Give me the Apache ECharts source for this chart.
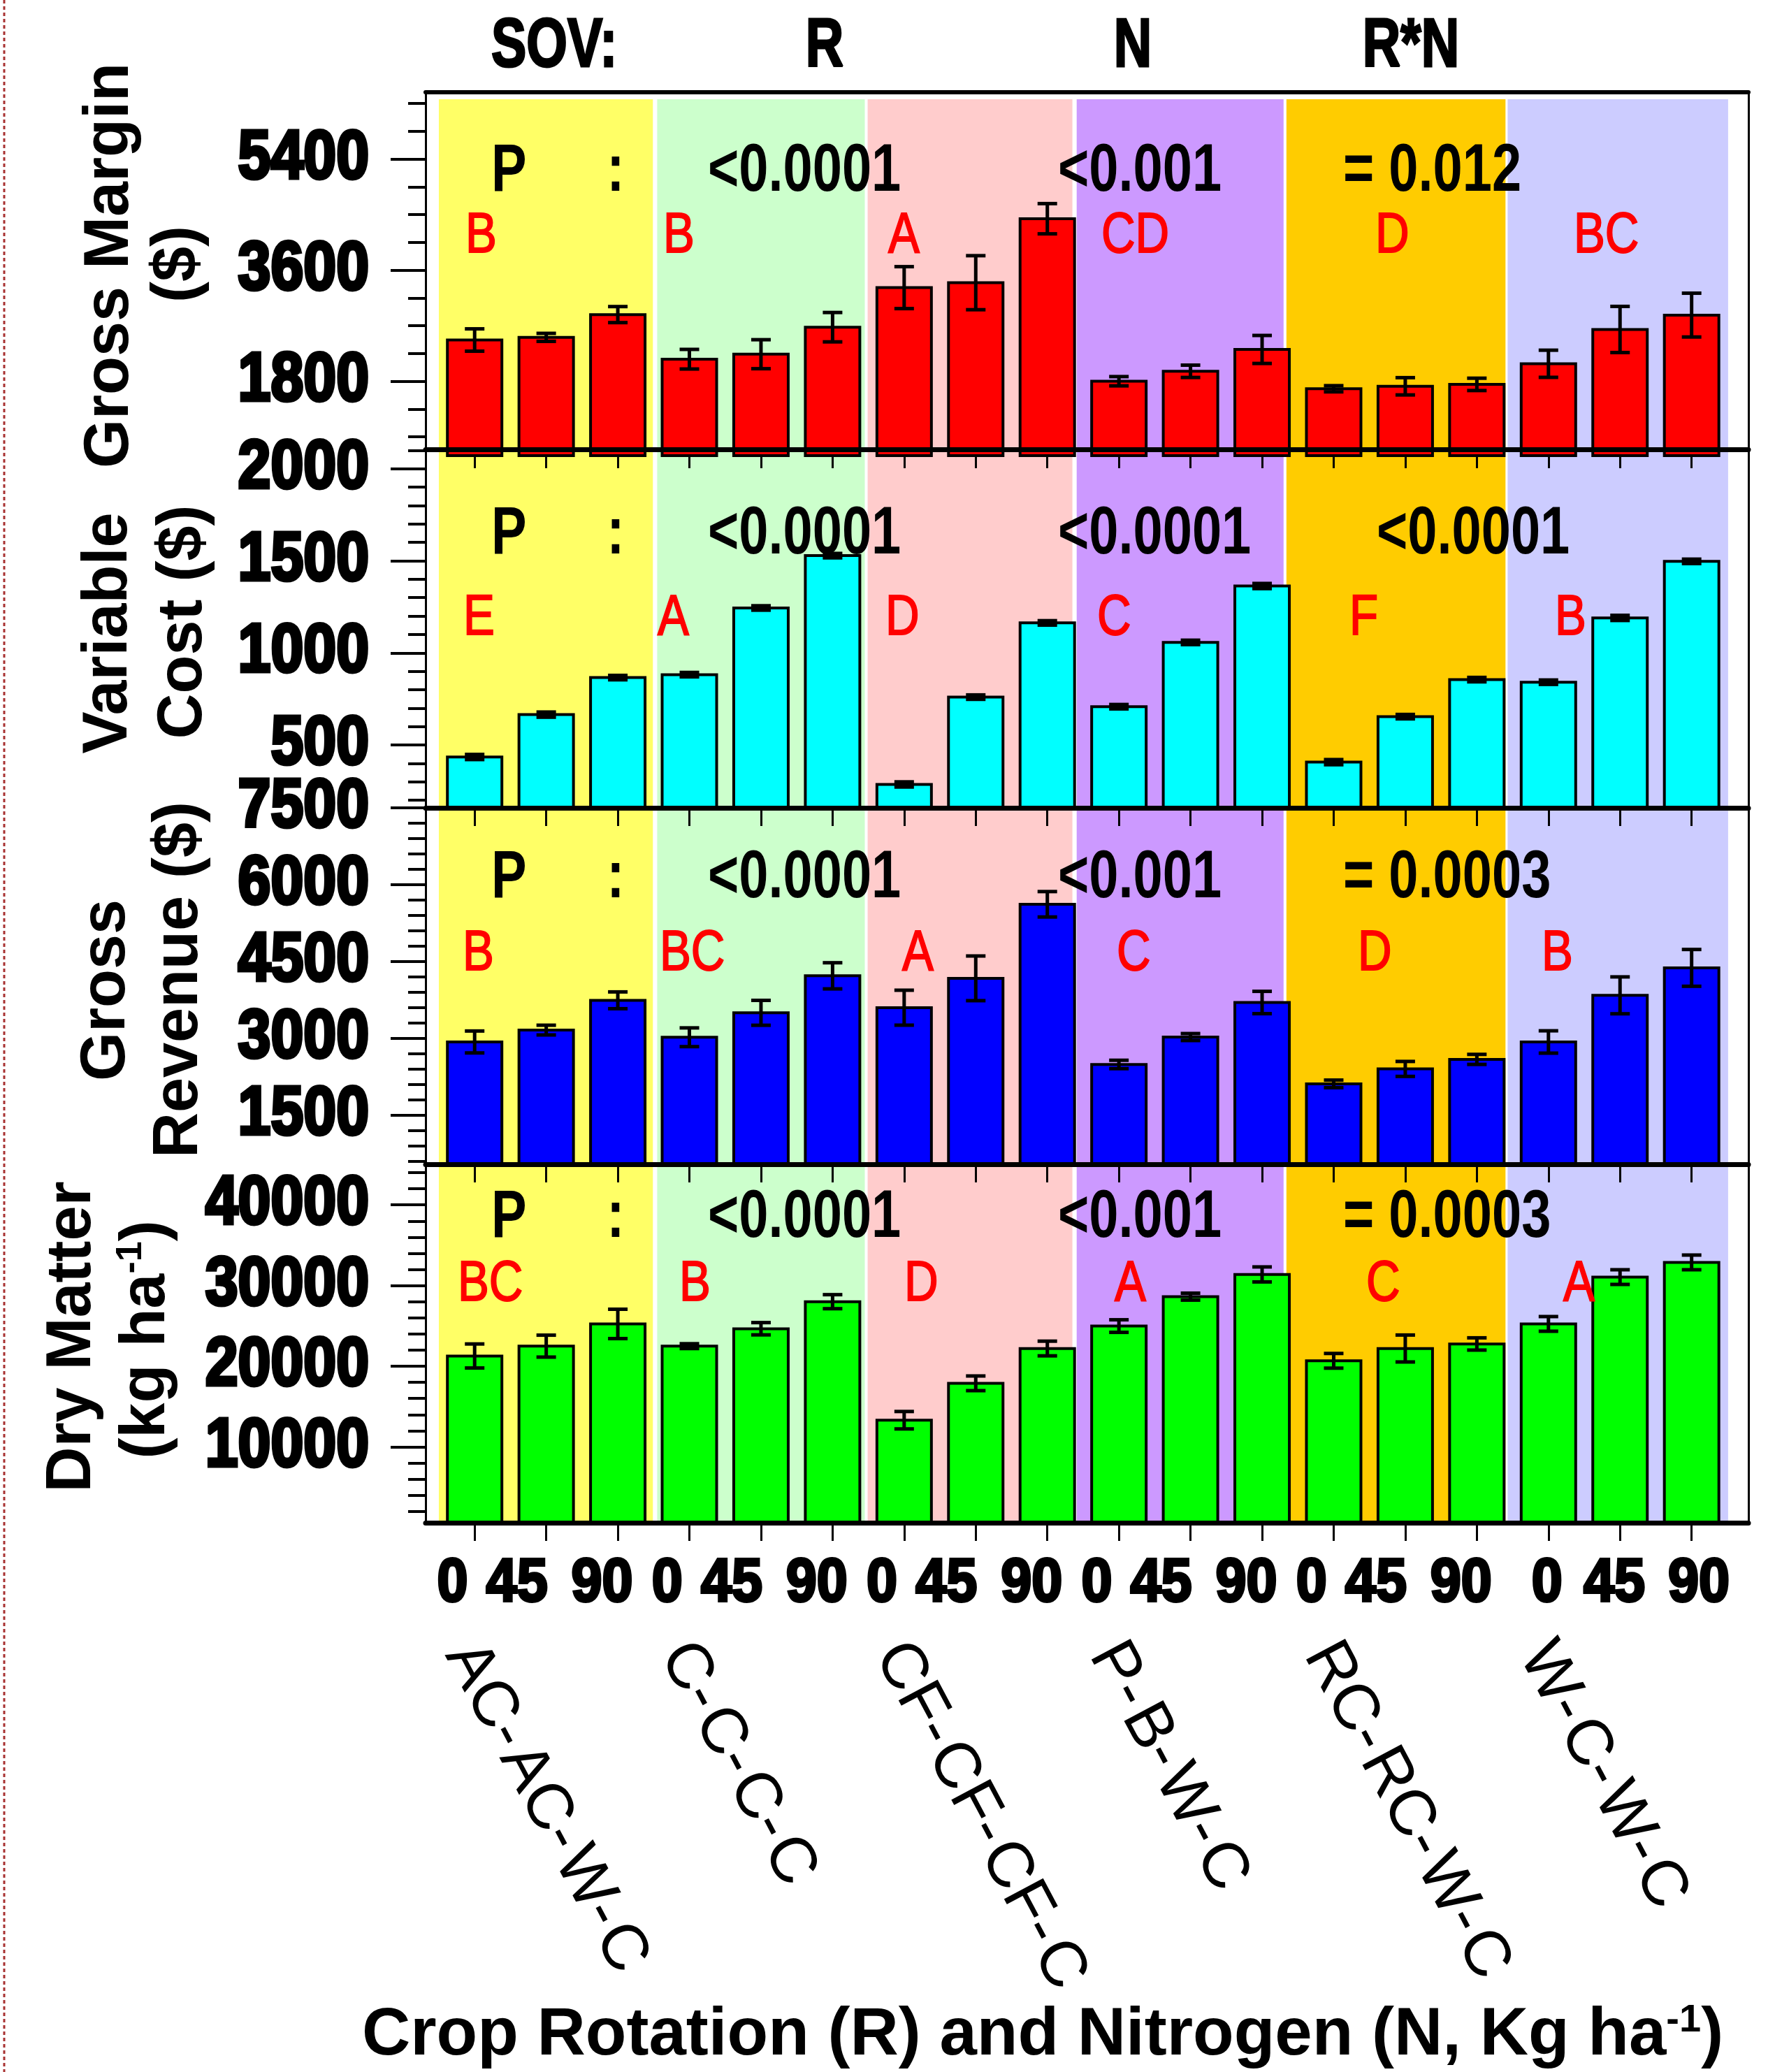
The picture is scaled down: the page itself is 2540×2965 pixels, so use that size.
<!DOCTYPE html>
<html><head><meta charset="utf-8">
<script src="https://cdn.jsdelivr.net/npm/echarts@6/dist/echarts.min.js"></script>
<style>html,body{margin:0;padding:0;background:#fff}#c{width:2540px;height:2965px}</style>
</head><body><div id="c"></div>
<script>
// ---------------- DATA ----------------
const rotations = ['AC-AC-W-C', 'C-C-C-C', 'CF-CF-CF-C', 'P-B-W-C', 'RC-RC-W-C', 'W-C-W-C'];
const nLevels = ['0', '45', '90'];

const grossMargin    = [2468, 2511, 2880, 2157, 2238, 2676, 3317, 3397, 4434, 1800, 1961, 2315, 1678, 1718, 1749, 2083, 2639, 2872];
const grossMarginErr = [181, 65, 130, 159, 235, 238, 340, 438, 245, 75, 100, 227, 50, 140, 100, 220, 374, 355];

const variableCost    = [435, 665, 866, 882, 1244, 1528, 286, 760, 1163, 708, 1057, 1363, 407, 654, 855, 841, 1190, 1497];
const variableCostErr = [14, 14, 12, 12, 12, 12, 14, 12, 12, 12, 12, 14, 14, 12, 12, 12, 14, 12];

const grossRevenue    = [2931, 3163, 3744, 3023, 3500, 4222, 3600, 4173, 5618, 2492, 3027, 3701, 2113, 2405, 2591, 2931, 3841, 4377];
const grossRevenueErr = [214, 95, 164, 183, 243, 255, 341, 436, 248, 82, 68, 218, 74, 146, 98, 218, 360, 359];

const dryMatter    = [21271, 22492, 25247, 22492, 24649, 28002, 13309, 17883, 22198, 24979, 28626, 31381, 20673, 22198, 22761, 25247, 31051, 32871];
const dryMatterErr = [1490, 1360, 1820, 300, 760, 870, 1080, 910, 910, 780, 430, 930, 910, 1670, 760, 910, 910, 910];

// tick values (labels) and minor ticks
const gmTicks = [1800, 3600, 5400];
const gmMinor = [900, 1350, 2250, 2700, 3150, 4050, 4500, 4950, 5850, 6300];
const vcTicks = [500, 1000, 1500, 2000];
const vcMinor = [200, 300, 400, 600, 700, 800, 900, 1100, 1200, 1300, 1400, 1600, 1700, 1800, 1900, 2100];
const grTicks = [1500, 3000, 4500, 6000, 7500];
const grMinor = [600, 900, 1200, 1800, 2100, 2400, 2700, 3300, 3600, 3900, 4200, 4800, 5100, 5400, 5700, 6300, 6600, 6900, 7200];
const dmTicks = [10000, 20000, 30000, 40000];
const dmMinor = [2000, 4000, 6000, 8000, 12000, 14000, 16000, 18000, 22000, 24000, 26000, 28000, 32000, 34000, 36000, 38000, 42000, 44000];

// statistics text
const sovHeaders = ['SOV:', 'R', 'N', 'R*N'];
const pR  = ['<0.0001', '<0.0001', '<0.0001', '<0.0001'];
const pN  = ['<0.001', '<0.0001', '<0.001', '<0.001'];
const pRN = ['= 0.012', '<0.0001', '= 0.0003', '= 0.0003'];
const letters = [
  ['B', 'B', 'A', 'CD', 'D', 'BC'],
  ['E', 'A', 'D', 'C', 'F', 'B'],
  ['B', 'BC', 'A', 'C', 'D', 'B'],
  ['BC', 'B', 'D', 'A', 'C', 'A']
];
const yNames = [
  ['Gross Margin', '($)'],
  ['Variable', 'Cost ($)'],
  ['Gross', 'Revenue ($)'],
  ['Dry Matter', '(kg ha{s|-1})']
];
const xTitle = 'Crop Rotation (R) and Nitrogen (N, Kg ha{s|-1})';

// ---------------- LAYOUT / STYLE ----------------
const SANS = "'Liberation Sans', Arial, Helvetica, sans-serif";
const FRAME = { left: 609, right: 2502, top: 132 };
const PANEL_BOTTOM = [643, 1156, 1666, 2179];
const OVERHANG = [9, 0, 0, 0];          // first panel's bars run a little past its bottom line
const SLOT = 102.44, FIRST_CENTER = 679.2;
const X_MIN = -(FIRST_CENTER - FRAME.left) / SLOT;
const X_MAX = X_MIN + (FRAME.right - FRAME.left) / SLOT;
const BAND_EDGES = [[-0.50, 2.49], [2.55, 5.45], [5.49, 8.35], [8.41, 11.30], [11.34, 14.40], [14.43, 17.51]];
const BAND_COLORS = ['#ffff66', '#ccffcc', '#ffcccc', '#cc99ff', '#ffcc00', '#ccccff'];
const BAND_TOP = 1 - 10 / (PANEL_BOTTOM[3] - FRAME.top);
const BAR_W = 78, CAP = 28;

const panels = [
  { v: grossMargin,  e: grossMarginErr,  min: 594, max: 6484,  ticks: gmTicks, minor: gmMinor, color: '#ff0000' },
  { v: variableCost, e: variableCostErr, min: 159, max: 2105,  ticks: vcTicks, minor: vcMinor, color: '#00ffff' },
  { v: grossRevenue, e: grossRevenueErr, min: 545, max: 7500,  ticks: grTicks, minor: grMinor, color: '#0000ff' },
  { v: dryMatter,    e: dryMatterErr,    min: 600, max: 45040, ticks: dmTicks, minor: dmMinor, color: '#00ff00' }
];

const barIdx = [];
for (let g = 0; g < rotations.length; g++) for (let n = 0; n < nLevels.length; n++) barIdx.push(g * nLevels.length + n);

// small horizontal offsets of the N labels, as in the original
const X_LABEL_SHIFT_A = [-0.31, -0.41, -0.22];
const X_LABEL_SHIFT_B = [-0.02, -0.08, 0.10];
const xLabelPos = barIdx.map(i => i + (Math.floor(i / 3) < 5 ? X_LABEL_SHIFT_A[i % 3] : X_LABEL_SHIFT_B[i % 3]));
const groupLabelPos = rotations.map((r, g) => g * 3 - 0.2);

const HEADER_Y = 68;
const HEADER_X = [[703, 'left'], [1180, 'center'], [1621, 'center'], [2019, 'center']];
const PROW_Y = [247, 766, 1258, 1744];
const P_X = 703, COLON_X = 881, PR_X = 1013, PN_X = 1514, PRN_X_EQ = 1922, PRN_X_LT = 1970;
const LETTER_Y = [338, 885, 1365, 1838];
const LETTER_X = [
  [666, 949, 1271, 1576, 1968, 2252],
  [663, 941, 1267, 1570, 1931, 2225],
  [662, 944, 1291, 1598, 1943, 2206],
  [655, 972, 1294, 1595, 1955, 2237]
];
const YNAME_POS = [
  [[158, 380], [255, 378]],
  [[156, 906], [263, 890]],
  [[153, 1417], [257, 1402]],
  [[104, 1913], [210, 1917]]
];
const Y_LABEL_GAP = 81, X_LABEL_DY = 88;

// ---------------- BUILD OPTION ----------------
const grids = [], xAxes = [], yAxes = [], series = [];

panels.forEach((p, i) => {
  const top = i === 0 ? FRAME.top : PANEL_BOTTOM[i - 1];
  grids.push({ left: FRAME.left, width: FRAME.right - FRAME.left, top: top, height: PANEL_BOTTOM[i] + OVERHANG[i] - top, containLabel: false, outerBoundsMode: 'none' });
});
grids.push({ left: FRAME.left, width: FRAME.right - FRAME.left, top: FRAME.top, height: PANEL_BOTTOM[3] - FRAME.top, containLabel: false, outerBoundsMode: 'none' });

// x axes 0..3 : panel bottoms (ticks point down into the next panel)
panels.forEach((p, i) => {
  xAxes.push({
    gridIndex: i, type: 'value', min: X_MIN, max: X_MAX, position: 'bottom', z: 5,
    axisLine: { show: OVERHANG[i] === 0, onZero: false, lineStyle: { color: '#000', width: 7 } },
    axisTick: { show: true, length: 26 - OVERHANG[i] * 0.9, customValues: barIdx, lineStyle: { color: '#000', width: 3 } },
    axisLabel: { show: false },
    splitLine: { show: false }
  });
});
// x axis 4 : rotation names under panel 4
xAxes.push({
  gridIndex: 3, type: 'value', min: X_MIN, max: X_MAX, position: 'bottom', z: 5,
  axisLine: { show: false, onZero: false }, axisTick: { show: false }, splitLine: { show: false },
  axisLabel: {
    show: true, customValues: groupLabelPos, rotate: -62, align: 'left', verticalAlign: 'middle', margin: 177,
    formatter: (v) => rotations[Math.round(Math.round(v) / 3)].split('-').join('-\u200A'),
    fontFamily: SANS, fontWeight: 'normal', fontSize: 92, color: '#000'
  }
});
// x axis 5 : top frame line
xAxes.push({
  gridIndex: 4, type: 'value', min: X_MIN, max: X_MAX, position: 'top', z: 5,
  axisLine: { show: true, onZero: false, lineStyle: { color: '#000', width: 6 } },
  axisTick: { show: false }, axisLabel: { show: false }, splitLine: { show: false }
});
// x axis 6 : separator line between panel 1 and 2 (top edge of panel 2)
xAxes.push({
  gridIndex: 1, type: 'value', min: X_MIN, max: X_MAX, position: 'top', z: 6,
  axisLine: { show: true, onZero: false, lineStyle: { color: '#000', width: 7 } },
  axisTick: { show: false }, axisLabel: { show: false }, splitLine: { show: false }
});

// y axes 0..3 : major ticks
panels.forEach((p, i) => {
  yAxes.push({
    gridIndex: i, type: 'value', min: p.min, max: p.max, position: 'left', z: 5,
    axisLine: { show: false, onZero: false },
    axisTick: { show: true, length: 50, customValues: p.ticks, lineStyle: { color: '#000', width: 4 } },
    axisLabel: { show: false },
    splitLine: { show: false }
  });
});
// y axes 4..7 : minor ticks
panels.forEach((p, i) => {
  yAxes.push({
    gridIndex: i, type: 'value', min: p.min, max: p.max, position: 'left', z: 5,
    axisLine: { show: false, onZero: false },
    axisTick: { show: true, length: 25, customValues: p.minor, lineStyle: { color: '#000', width: 4 } },
    axisLabel: { show: false }, splitLine: { show: false }
  });
});
// y axes 8,9 : frame left / right
yAxes.push({
  gridIndex: 4, type: 'value', min: 0, max: 1, position: 'left', z: 5,
  axisLine: { show: true, onZero: false, lineStyle: { color: '#000', width: 3 } },
  axisTick: { show: false }, axisLabel: { show: false }, splitLine: { show: false }
});
yAxes.push({
  gridIndex: 4, type: 'value', min: 0, max: 1, position: 'right', z: 5,
  axisLine: { show: true, onZero: false, lineStyle: { color: '#000', width: 3 } },
  axisTick: { show: false }, axisLabel: { show: false }, splitLine: { show: false }
});

// background bands
series.push({
  type: 'custom', xAxisIndex: 5, yAxisIndex: 8, z: 1, silent: true, animation: false,
  data: BAND_EDGES.map((b, k) => [b[0], b[1], k]),
  renderItem: function (params, api) {
    const a = api.coord([api.value(0), BAND_TOP]);
    const b = api.coord([api.value(1), 0]);
    return { type: 'rect', shape: { x: a[0], y: a[1], width: b[0] - a[0], height: b[1] - a[1] },
             style: { fill: BAND_COLORS[api.value(2)] } };
  }
});

// bars (rect from axis minimum to value) + error bars
panels.forEach((p, i) => {
  series.push({
    type: 'custom', xAxisIndex: i, yAxisIndex: i, z: 2, silent: true, animation: false,
    data: p.v.map((v, k) => [barIdx[k], v]),
    encode: { x: 0, y: 1 },
    renderItem: function (params, api) {
      const t = api.coord([api.value(0), api.value(1)]);
      const b = api.coord([api.value(0), p.min]);
      return { type: 'rect', shape: { x: t[0] - BAR_W / 2, y: t[1], width: BAR_W, height: b[1] - t[1] },
               style: { fill: p.color, stroke: '#000', lineWidth: 4 } };
    }
  });
  series.push({
    type: 'custom', xAxisIndex: i, yAxisIndex: i, z: 3, silent: true, animation: false,
    data: p.v.map((v, k) => [barIdx[k], v - p.e[k], v + p.e[k]]),
    encode: { x: 0, y: [1, 2] },
    renderItem: function (params, api) {
      const lo = api.coord([api.value(0), api.value(1)]);
      const hi = api.coord([api.value(0), api.value(2)]);
      const st = { stroke: '#000', lineWidth: 5 };
      return { type: 'group', children: [
        { type: 'line', shape: { x1: lo[0], y1: lo[1], x2: hi[0], y2: hi[1] }, style: st },
        { type: 'line', shape: { x1: hi[0] - CAP / 2, y1: hi[1], x2: hi[0] + CAP / 2, y2: hi[1] }, style: st },
        { type: 'line', shape: { x1: lo[0] - CAP / 2, y1: lo[1], x2: lo[0] + CAP / 2, y2: lo[1] }, style: st }
      ] };
    }
  });
});

const chart = echarts.init(document.getElementById('c'), null, { renderer: 'canvas', width: 2540, height: 2965 });
chart.setOption({
  animation: false,
  backgroundColor: '#ffffff',
  grid: grids, xAxis: xAxes, yAxis: yAxes, series: series
});

// ---------------- TEXT (tick labels placed through the axes' scales) ----------------
const graphics = [];
function addText(text, x, y, style, extra) {
  graphics.push(Object.assign({ type: 'text', x: x, y: y, z: 50, silent: true,
    style: Object.assign({ text: text, fill: '#000', align: 'left', verticalAlign: 'middle', fontFamily: SANS }, style) }, extra || {}));
}
graphics.push({ type: 'line', z: 50, silent: true, shape: { x1: 6, y1: 0, x2: 6, y2: 2965 },
  style: { stroke: '#a83232', lineWidth: 3, lineDash: [5, 4] } });

// y tick labels (heavy narrow)
panels.forEach((p, i) => {
  p.ticks.forEach(v => {
    const y = chart.convertToPixel({ yAxisIndex: i }, v);
    addText(String(v), FRAME.left - Y_LABEL_GAP, y,
      { align: 'right', fontWeight: 'bold', fontSize: 98, stroke: '#000', lineWidth: 5 }, { scaleX: 0.86 });
  });
});
// x tick labels
xLabelPos.forEach(pos => {
  const x = chart.convertToPixel({ xAxisIndex: 3 }, pos);
  addText(nLevels[Math.round(pos) % 3], x, PANEL_BOTTOM[3] + X_LABEL_DY,
    { align: 'center', fontWeight: 'bold', fontSize: 88, stroke: '#000', lineWidth: 4 }, { scaleX: 0.9 });
});

sovHeaders.forEach((h, k) => addText(h, HEADER_X[k][0], HEADER_Y,
  { align: HEADER_X[k][1], fontWeight: 'bold', fontSize: 98, stroke: '#000', lineWidth: 3 }, { scaleX: 0.77 }));

const pStyle = { fontWeight: 'bold', fontSize: 96 };
const NARROW_SCALE = { scaleX: 0.79 };
panels.forEach((p, i) => {
  addText('P', P_X, PROW_Y[i], pStyle, NARROW_SCALE);
  addText(':', COLON_X, PROW_Y[i], Object.assign({}, pStyle, { align: 'center' }), NARROW_SCALE);
  addText(pR[i], PR_X, PROW_Y[i], pStyle, NARROW_SCALE);
  addText(pN[i], PN_X, PROW_Y[i], pStyle, NARROW_SCALE);
  addText(pRN[i], pRN[i].charAt(0) === '=' ? PRN_X_EQ : PRN_X_LT, PROW_Y[i], pStyle, NARROW_SCALE);
  letters[i].forEach((l, g) => addText(l, LETTER_X[i][g], LETTER_Y[i],
    { fill: '#ff0000', fontWeight: 'normal', fontSize: 82, stroke: '#ff0000', lineWidth: 2 }, { scaleX: 0.82 }));
  yNames[i].forEach((n, k) => addText(n, YNAME_POS[i][k][0], YNAME_POS[i][k][1],
    { align: 'center', fontWeight: 'bold', fontSize: 90, lineHeight: 96,
      rich: { s: { fontFamily: SANS, fontWeight: 'bold', fontSize: 52, verticalAlign: 'top', lineHeight: 96 } } },
    { rotation: Math.PI / 2 }));
});

addText(xTitle, 1492, 2914, { align: 'center', fontWeight: 'bold', fontSize: 96, lineHeight: 100,
  rich: { s: { fontFamily: SANS, fontWeight: 'bold', fontSize: 56, verticalAlign: 'top', lineHeight: 100 } } });

chart.setOption({ graphic: graphics });
</script>
</body></html>
